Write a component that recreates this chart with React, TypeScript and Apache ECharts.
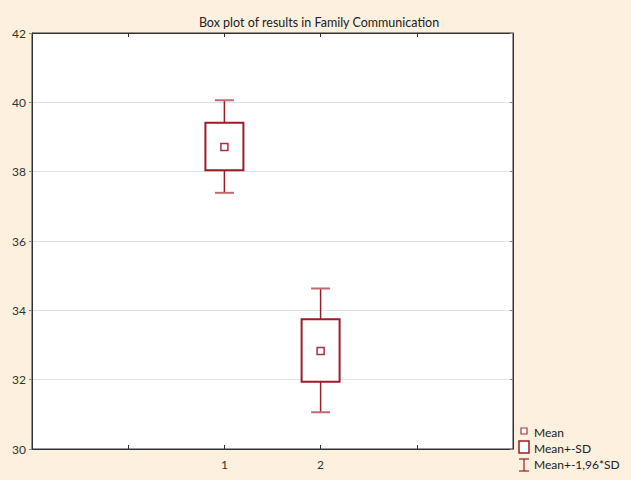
import React, { useEffect, useRef } from "react";
import * as echarts from "echarts";

const groups = [1, 2];
const means = [38.71, 32.83];
const sdLow = [38.04, 31.94];
const sdHigh = [39.41, 33.74];
const ciLow = [37.39, 31.06];
const ciHigh = [40.06, 34.63];
const yTicks = [30, 32, 34, 36, 38, 40, 42];
const legendLabels = ["Mean", "Mean+-SD", "Mean+-1,96*SD"];

const RED = "#9b1d28";
const BG = "#fdf0de";
const FONT = "Lato";

export default function App() {
  const ref = useRef<HTMLDivElement>(null);
  useEffect(() => {
    document.body.style.margin = "0";
    document.body.style.background = BG;
    const chart = echarts.init(ref.current!, null, { renderer: "svg" });
    const data = groups.map((g, i) => [g, ciLow[i], sdLow[i], means[i], sdHigh[i], ciHigh[i]]);
    chart.setOption({
      animation: false,
      backgroundColor: BG,
      title: {
        text: "Box plot of results in Family Communication",
        left: 314,
        textAlign: "center",
        top: 11,
        textStyle: { fontFamily: FONT, fontSize: 12.5, fontWeight: "normal", color: "#222" },
      },
      grid: { left: 32, right: 118, top: 33, bottom: 31, show: true, backgroundColor: "#fff", borderColor: "#333", borderWidth: 1 },
      xAxis: [
        {
          type: "value",
          min: -1,
          max: 4,
          interval: 1,
          position: "bottom",
          axisLine: { onZero: false, lineStyle: { color: "#333" } },
          axisTick: { inside: true, length: 4, lineStyle: { color: "#333" } },
          axisLabel: {
            fontFamily: FONT,
            fontSize: 12,
            color: "#333",
            margin: 9,
            formatter: (v: number) => (groups.includes(v) ? String(v) : ""),
          },
          splitLine: { show: false },
        },
        {
          type: "value",
          min: -1,
          max: 4,
          interval: 1,
          position: "top",
          axisLine: { onZero: false, lineStyle: { color: "#333" } },
          axisTick: { inside: true, length: 4, lineStyle: { color: "#333" } },
          axisLabel: { show: false },
          splitLine: { show: false },
        },
      ],
      yAxis: [
        {
          type: "value",
          min: 30,
          max: 42,
          interval: 2,
          axisLine: { show: true, onZero: false, lineStyle: { color: "#333" } },
          axisTick: { show: true, length: 3, lineStyle: { color: "#888" } },
          axisLabel: {
            fontFamily: FONT,
            fontSize: 12,
            color: "#333",
            margin: 6,
            formatter: (v: number) => (yTicks.includes(v) ? String(v) : ""),
          },
          splitLine: { show: true, lineStyle: { color: "#e2e2e2", width: 1 } },
        },
        {
          type: "value",
          min: 30,
          max: 42,
          interval: 2,
          position: "right",
          axisLine: { show: true, onZero: false, lineStyle: { color: "#333" } },
          axisTick: { show: true, inside: true, length: 3, lineStyle: { color: "#888" } },
          axisLabel: { show: false },
          splitLine: { show: false },
        },
      ],
      series: [
        {
          type: "custom",
          xAxisIndex: 0,
          yAxisIndex: 0,
          data,
          renderItem: (params: any, api: any) => {
            const x = api.value(0);
            const pLow = api.coord([x, api.value(1)]);
            const pQ1 = api.coord([x, api.value(2)]);
            const pMean = api.coord([x, api.value(3)]);
            const pQ3 = api.coord([x, api.value(4)]);
            const pHigh = api.coord([x, api.value(5)]);
            const cx = pMean[0];
            const bw = 38;
            const cw = 19;
            const ms = 7;
            const ls = { stroke: RED, lineWidth: 1.5, fill: null };
            return {
              type: "group",
              children: [
                { type: "line", shape: { x1: cx, y1: pHigh[1], x2: cx, y2: pQ3[1] }, style: ls },
                { type: "line", shape: { x1: cx, y1: pQ1[1], x2: cx, y2: pLow[1] }, style: ls },
                { type: "line", shape: { x1: cx - cw / 2, y1: pHigh[1], x2: cx + cw / 2, y2: pHigh[1] }, style: { stroke: "#c06a72", lineWidth: 2 } },
                { type: "line", shape: { x1: cx - cw / 2, y1: pLow[1], x2: cx + cw / 2, y2: pLow[1] }, style: { stroke: "#c06a72", lineWidth: 2 } },
                {
                  type: "rect",
                  shape: { x: cx - bw / 2, y: pQ3[1], width: bw, height: pQ1[1] - pQ3[1] },
                  style: { stroke: RED, lineWidth: 2, fill: "#fff" },
                },
                {
                  type: "rect",
                  shape: { x: cx - ms / 2, y: pMean[1] - ms / 2, width: ms, height: ms },
                  style: { stroke: "#a8323c", lineWidth: 1.5, fill: "#fff" },
                },
              ],
            };
          },
        },
      ],
      graphic: [
        { type: "rect", shape: { x: 521, y: 428, width: 6, height: 6 }, style: { stroke: "#a8323c", lineWidth: 1.2, fill: "#fff" } },
        { type: "rect", shape: { x: 519, y: 441, width: 10, height: 12 }, style: { stroke: RED, lineWidth: 1.5, fill: "#fff" } },
        { type: "line", shape: { x1: 524, y1: 459, x2: 524, y2: 471 }, style: { stroke: RED, lineWidth: 1.2 } },
        { type: "line", shape: { x1: 519, y1: 459, x2: 529, y2: 459 }, style: { stroke: RED, lineWidth: 1.2 } },
        { type: "line", shape: { x1: 519, y1: 471, x2: 529, y2: 471 }, style: { stroke: RED, lineWidth: 1.2 } },
        ...legendLabels.map((t, i) => ({
          type: "text",
          x: 534,
          y: 432 + i * 16,
          style: { text: t, fontFamily: FONT, fontSize: 12, fill: "#222", textVerticalAlign: "middle" },
        })),
      ],
    });
    return () => chart.dispose();
  }, []);
  return <div ref={ref} style={{ width: 631, height: 480 }} />;
}
